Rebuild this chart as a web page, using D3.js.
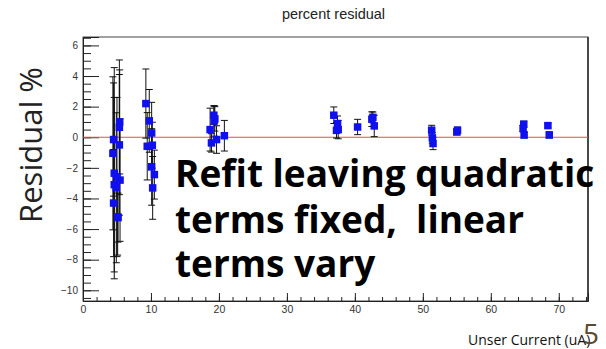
<!DOCTYPE html>
<html>
<head>
<meta charset="utf-8">
<script src="https://cdn.jsdelivr.net/npm/d3@7"></script>
<style>
  html, body { margin: 0; padding: 0; background: #fff; }
  svg { display: block; }
</style>
</head>
<body>
<svg id="chart" width="606" height="349"></svg>
<script>
// Beam current (uA) of each measurement
const current = [
  4.5, 4.4, 4.6, 4.6, 4.5, 5.1, 5.15, 5.45, 5.35, 5.4, 5.35, 4.9, 5.0,
  9.25, 9.75, 10.1, 9.45, 10.2, 10.1, 10.5, 10.25,
  19.25, 19.3, 18.7, 18.9, 19.65, 20.8, 19.4,
  36.9, 37.45, 37.55, 37.3, 40.4, 42.5, 42.85, 42.65,
  51.3, 51.4, 51.5, 55.0, 55.1,
  64.85, 64.75, 64.9, 68.4, 68.6
];
// Percent residual of the refit
const residual = [
  -0.15, -1.05, -2.35, -3.1, -4.3, -5.2, -5.25, -2.8, 0.65, 1.0, -0.5, -3.3, -2.6,
  2.2, 1.07, 0.28, -0.59, -0.52, -1.94, -2.44, -3.31,
  1.44, 1.07, 0.5, -0.37, -0.15, 0.1, 1.2,
  1.44, 0.89, 0.5, 0.45, 0.67, 1.18, 0.74, 1.3,
  0.46, -0.04, -0.41, 0.35, 0.46,
  0.85, 0.57, 0.15, 0.76, 0.15
];
// Symmetric uncertainty on each residual
const residualError = [
  3.7, 5.0, 6.9, 5.7, 3.5, 2.5, 1.6, 4.0, 4.4, 3.4, 4.6, 4.9, 5.2,
  2.26, 2.05, 2.0, 2.2, 1.5, 2.5, 1.6, 2.05,
  0.6, 1.0, 1.4, 0.6, 0.9, 1.0, 0.8,
  0.54, 0.5, 0.6, 0.5, 0.5, 0.48, 0.7, 0.35,
  0.32, 0.35, 0.4, 0.2, 0.2,
  0.2, 0.2, 0.2, 0.15, 0.2
];
const xTickValues = [0, 10, 20, 30, 40, 50, 60, 70];
const yTickValues = [-10, -8, -6, -4, -2, 0, 2, 4, 6];
const xDomain = [0, 74.3];
const yDomain = [-10.7, 6.55];
const fitLevel = 0;

const titleText = "percent residual";
const yTitle = "Residual %";
const xTitle = "Unser Current (uA)";
const noteLines = ["Refit leaving quadratic", "terms fixed,  linear", "terms vary"];
const pageNumber = "5";

const svg = d3.select("#chart");
const plotLeft = 83, plotRight = 588, plotTop = 37, plotBottom = 301;

const x = d3.scaleLinear().domain(xDomain).range([plotLeft, plotRight]);
const y = d3.scaleLinear().domain(yDomain).range([plotBottom, plotTop]);

// frame
svg.append("rect")
  .attr("x", plotLeft).attr("y", plotTop)
  .attr("width", plotRight - plotLeft).attr("height", plotBottom - plotTop)
  .attr("fill", "none").attr("stroke", "#444").attr("stroke-width", 1);
svg.append("line")
  .attr("x1", plotRight).attr("x2", plotRight)
  .attr("y1", plotTop).attr("y2", plotBottom)
  .attr("stroke", "#333").attr("stroke-width", 1.6);

// title
svg.append("text")
  .attr("x", (plotLeft + plotRight) / 2 - 2).attr("y", 19)
  .attr("text-anchor", "middle")
  .attr("font-family", "Liberation Sans, Arial, sans-serif")
  .attr("font-size", 14.5).attr("fill", "#222")
  .text(titleText);

// y axis with inward ticks
const yMinor = d3.range(-10.5, 6.51, 0.5);
const yAxisMinor = d3.axisRight(y).tickValues(yMinor).tickSize(8).tickFormat("");
svg.append("g").attr("transform", `translate(${plotLeft},0)`).call(yAxisMinor)
  .call(g => g.select(".domain").remove())
  .call(g => g.selectAll("line").attr("stroke", "#222"));
const yAxis = d3.axisRight(y).tickValues(yTickValues).tickSize(16).tickFormat(d3.format("d"));
svg.append("g").attr("transform", `translate(${plotLeft},0)`).call(yAxis)
  .call(g => g.select(".domain").attr("stroke", "#222"))
  .call(g => g.selectAll("line").attr("stroke", "#222"))
  .call(g => g.selectAll("text")
    .attr("x", -5).attr("text-anchor", "end")
    .attr("font-family", "Liberation Sans, Arial, sans-serif")
    .attr("font-size", 10).attr("fill", "#333"));

// x axis with inward ticks
const xMinor = d3.range(0, 74.1, 2);
const xAxisMinor = d3.axisTop(x).tickValues(xMinor).tickSize(4).tickFormat("");
svg.append("g").attr("transform", `translate(0,${plotBottom})`).call(xAxisMinor)
  .call(g => g.select(".domain").remove())
  .call(g => g.selectAll("line").attr("stroke", "#222"));
const xAxis = d3.axisTop(x).tickValues(xTickValues).tickSize(8).tickFormat(d3.format("d"));
svg.append("g").attr("transform", `translate(0,${plotBottom})`).call(xAxis)
  .call(g => g.select(".domain").attr("stroke", "#222"))
  .call(g => g.selectAll("line").attr("stroke", "#222"))
  .call(g => g.selectAll("text")
    .attr("y", 12).attr("dy", 0)
    .attr("font-family", "Liberation Sans, Arial, sans-serif")
    .attr("font-size", 10.5).attr("fill", "#333"));

// fit line at zero
svg.append("line")
  .attr("x1", plotLeft).attr("x2", plotRight)
  .attr("y1", y(fitLevel)).attr("y2", y(fitLevel))
  .attr("stroke", "#e04f4f").attr("stroke-width", 1.2);

// measurements
const points = current.map((c, i) => ({ c, r: residual[i], e: residualError[i] }));
const capHalf = 3.5;
const bars = svg.append("g").attr("stroke", "#111").attr("stroke-width", 1);
points.forEach(p => {
  const px = x(p.c);
  const hi = y(p.r + p.e), lo = y(p.r - p.e);
  bars.append("line").attr("x1", px).attr("x2", px).attr("y1", hi).attr("y2", lo);
  bars.append("line").attr("x1", px - capHalf).attr("x2", px + capHalf).attr("y1", hi).attr("y2", hi);
  bars.append("line").attr("x1", px - capHalf).attr("x2", px + capHalf).attr("y1", lo).attr("y2", lo);
});
const ms = 7.5;
svg.append("g").selectAll("rect").data(points).join("rect")
  .attr("x", d => x(d.c) - ms / 2)
  .attr("y", d => y(d.r) - ms / 2)
  .attr("width", ms).attr("height", ms)
  .attr("fill", "#1010ee");

// y axis title
svg.append("text")
  .attr("transform", `translate(42,145) rotate(-90)`)
  .attr("text-anchor", "middle")
  .attr("font-family", "Open Sans, sans-serif")
  .attr("font-size", 31).attr("fill", "#222")
  .text(yTitle);

// annotation
const note = svg.append("text")
  .attr("font-family", "Open Sans, sans-serif")
  .attr("font-weight", 700)
  .attr("font-size", 37).attr("fill", "#000");
const baselines = [187, 233, 277];
noteLines.forEach((t, i) => {
  note.append("tspan").attr("x", 175).attr("y", baselines[i])
    .attr("xml:space", "preserve").style("white-space", "pre").text(t);
});

// x axis title
svg.append("text")
  .attr("x", 468).attr("y", 345)
  .attr("font-family", "Open Sans, sans-serif")
  .attr("font-size", 14).attr("fill", "#111")
  .text(xTitle);

// page number
svg.append("text")
  .attr("x", 583).attr("y", 344)
  .attr("font-family", "Open Sans, sans-serif")
  .attr("font-size", 28).attr("fill", "#5a4a30")
  .text(pageNumber);
</script>
</body>
</html>
